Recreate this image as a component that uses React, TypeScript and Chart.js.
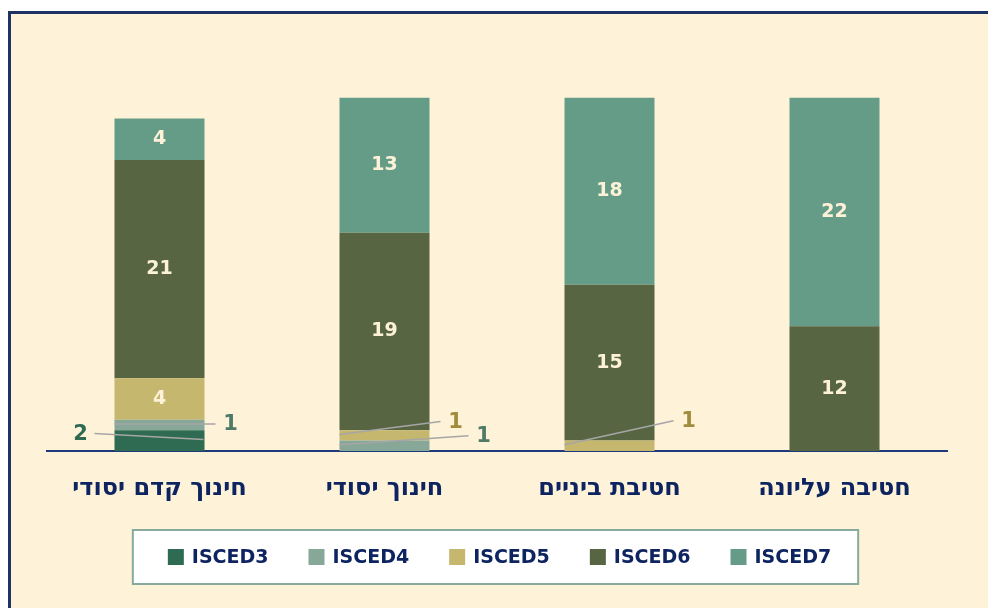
import React, { useEffect, useRef } from "react";
import { Chart, registerables } from "chart.js";

Chart.register(...registerables);

const categories = ["חינוך קדם יסודי", "חינוך יסודי", "חטיבת ביניים", "חטיבה עליונה"];
const seriesNames = ["ISCED3", "ISCED4", "ISCED5", "ISCED6", "ISCED7"];
const isced3 = [2, 0, 0, 0];
const isced4 = [1, 1, 0, 0];
const isced5 = [4, 1, 1, 0];
const isced6 = [21, 19, 15, 12];
const isced7 = [4, 13, 18, 22];
const seriesValues = [isced3, isced4, isced5, isced6, isced7];

const seriesColors = ["#2e6b52", "#87a898", "#c6b76f", "#576542", "#659c88"];
const calloutColors = ["#2e6b52", "#4f7a68", "#a08c3c", "#576542", "#659c88"];

// Callout label placement (style): series index, category index, label offsets
const callouts = [
  { series: 0, index: 0, dx: -79, dy: -6 },
  { series: 1, index: 0, dx: 71, dy: 0 },
  { series: 2, index: 1, dx: 71, dy: -13 },
  { series: 1, index: 1, dx: 99, dy: -9 },
  { series: 2, index: 2, dx: 79, dy: -24 },
];

const NAVY = "#0d2461";
const FONT = "'DejaVu Sans', sans-serif";

const labelPlugin = {
  id: "segmentLabels",
  afterDatasetsDraw(chart: any) {
    const ctx = chart.ctx;
    ctx.save();
    chart.data.datasets.forEach((ds: any, di: number) => {
      const meta = chart.getDatasetMeta(di);
      meta.data.forEach((bar: any, i: number) => {
        const v = ds.data[i];
        if (!v) return;
        const p = bar.getProps(["x", "y", "base", "width"], true);
        const cy = (p.y + p.base) / 2;
        const co = callouts.find((c) => c.series === di && c.index === i);
        ctx.textAlign = "center";
        ctx.textBaseline = "middle";
        if (co) {
          const lx = p.x + co.dx;
          const ly = cy + co.dy;
          const right = co.dx > 0;
          const sx = right ? lx - 15 : lx + 14;
          const ex = right ? p.x - p.width / 2 : p.x + p.width / 2 - 1;
          ctx.strokeStyle = "#a6a6a6";
          ctx.lineWidth = 1.5;
          ctx.beginPath();
          ctx.moveTo(sx, ly - 1);
          ctx.lineTo(ex, cy - 1);
          ctx.stroke();
          ctx.fillStyle = calloutColors[di];
          ctx.font = `bold 21px ${FONT}`;
          ctx.fillText(String(v), lx, ly);
        } else {
          ctx.fillStyle = "#fdf2d8";
          ctx.font = `bold 19px ${FONT}`;
          ctx.fillText(String(v), p.x, cy);
        }
      });
    });
    ctx.restore();
  },
};

const legendPlugin = {
  id: "boxLegend",
  afterDraw(chart: any) {
    const ctx = chart.ctx;
    ctx.save();
    ctx.font = `bold 19px ${FONT}`;
    const sq = 16;
    const gap = 8;
    const itemGap = 40;
    const items = chart.data.datasets.map((ds: any) => ({
      label: ds.label,
      color: ds.backgroundColor,
      w: ctx.measureText(ds.label).width,
    }));
    const total =
      items.reduce((s: number, it: any) => s + sq + gap + it.w, 0) + itemGap * (items.length - 1);
    const startX = chart.width / 2 - total / 2;
    const top = chart.chartArea.bottom + 79;
    const h = 54;
    ctx.fillStyle = "#ffffff";
    ctx.fillRect(startX - 35, top, total + 62, h);
    ctx.strokeStyle = "#86ab9c";
    ctx.lineWidth = 2;
    ctx.strokeRect(startX - 35, top, total + 62, h);
    const cy = top + h / 2;
    let x = startX;
    ctx.textBaseline = "middle";
    ctx.textAlign = "left";
    items.forEach((it: any) => {
      ctx.fillStyle = it.color;
      ctx.fillRect(x, cy - sq / 2, sq, sq);
      x += sq + gap;
      ctx.fillStyle = NAVY;
      ctx.fillText(it.label, x, cy + 1);
      x += it.w + itemGap;
    });
    ctx.restore();
  },
};

export default function App() {
  const ref = useRef<HTMLCanvasElement>(null);
  useEffect(() => {
    if (!ref.current) return;
    const chart = new Chart(ref.current, {
      type: "bar",
      data: {
        labels: categories,
        datasets: seriesNames.map((name, k) => ({
          label: name,
          data: seriesValues[k],
          backgroundColor: seriesColors[k],
          borderWidth: 0,
          barPercentage: 0.4,
          categoryPercentage: 1,
        })),
      },
      options: {
        responsive: false,
        animation: false,
        layout: { padding: { left: 36, right: 41, top: 63, bottom: 107 } },
        plugins: { legend: { display: false }, tooltip: { enabled: false } },
        scales: {
          x: {
            stacked: true,
            grid: { display: false },
            border: { display: true, color: "#1f3a7a", width: 2 },
            ticks: {
              color: NAVY,
              font: { family: FONT, size: 24, weight: "bold" },
              padding: 15,
              maxRotation: 0,
              autoSkip: false,
            },
            afterFit: (scale: any) => {
              scale.height = 50;
            },
          },
          y: {
            stacked: true,
            display: false,
            min: 0,
            max: 36,
          },
        },
      },
      plugins: [labelPlugin, legendPlugin],
    });
    return () => chart.destroy();
  }, []);

  return (
    <div
      style={{
        position: "fixed",
        left: 8,
        top: 11,
        width: 977,
        height: 594,
        background: "#fef2d8",
        borderTop: "3px solid #1d3366",
        borderLeft: "3px solid #1d3366",
      }}
    >
      <canvas ref={ref} width={977} height={594} style={{ display: "block" }} />
    </div>
  );
}
